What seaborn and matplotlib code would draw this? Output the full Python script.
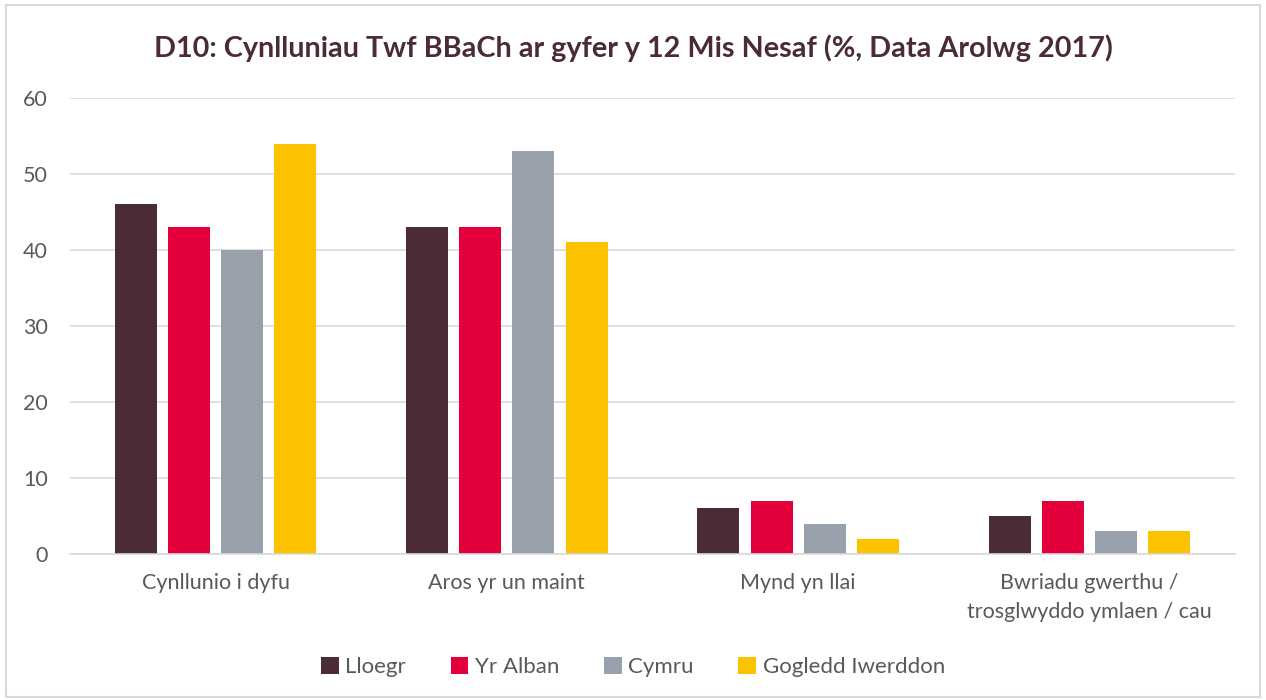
import pandas as pd
from matplotlib import pyplot as plt
from matplotlib.patches import Rectangle
import seaborn as sns

categories = ['Cynllunio i dyfu', 'Aros yr un maint', 'Mynd yn llai',
              'Bwriadu gwerthu /\ntrosglwyddo ymlaen / cau']
countries = ['Lloegr', 'Yr Alban', 'Cymru', 'Gogledd Iwerddon']
lloegr = [46, 43, 6, 5]
yr_alban = [43, 43, 7, 7]
cymru = [40, 53, 4, 3]
gogledd_iwerddon = [54, 41, 2, 3]

colours = ['#4a2b37', '#e4003b', '#98a0ac', '#fcc200']

rows = []
for country, values in zip(countries, [lloegr, yr_alban, cymru, gogledd_iwerddon]):
    for cat, v in zip(categories, values):
        rows.append({'Categori': cat, 'Gwlad': country, 'Gwerth': v})
df = pd.DataFrame(rows)

sns.set_style('white')
plt.rcParams['font.family'] = ['Lato', 'DejaVu Sans']

fig = plt.figure(figsize=(12.66, 7), dpi=100)
ax = fig.add_axes([0.0553, 0.2086, 0.9202, 0.6514])

sns.barplot(data=df, x='Categori', y='Gwerth', hue='Gwlad',
            hue_order=countries, palette=colours, saturation=1,
            width=0.73, gap=0.21, linewidth=0, ax=ax)

ax.set_ylim(0, 60)
ax.set_yticks(range(0, 61, 10))
ax.yaxis.grid(True, color='#d9d9d9', linewidth=1.2)
ax.set_axisbelow(True)
for side in ['left', 'right', 'top']:
    ax.spines[side].set_visible(False)
ax.spines['bottom'].set_color('#d9d9d9')
ax.spines['bottom'].set_linewidth(1.2)
ax.tick_params(axis='both', length=0, labelsize=15.5, colors='#595959')
ax.tick_params(axis='x', pad=14)
ax.tick_params(axis='y', pad=16)
for lab in ax.get_xticklabels():
    lab.set_linespacing(1.55)
ax.set_xlabel('')
ax.set_ylabel('')

ax.legend(loc='center', bbox_to_anchor=(0.5, 0.047), bbox_transform=fig.transFigure,
          ncol=4, frameon=False, fontsize=16, handlelength=0.8, handleheight=0.8,
          handletextpad=0.3, columnspacing=2.0, labelcolor='#595959')

fig.text(0.5, 0.931, 'D10: Cynlluniau Twf BBaCh ar gyfer y 12 Mis Nesaf (%, Data Arolwg 2017)',
         ha='center', va='center', fontsize=20.7, fontweight='bold', color='#4a2b37')

fig.patches.append(Rectangle((0.005, 0.005), 0.99, 0.988, transform=fig.transFigure,
                             fill=False, edgecolor='#d9d9d9', linewidth=1.5))

fig.savefig('out.png', dpi=100)
